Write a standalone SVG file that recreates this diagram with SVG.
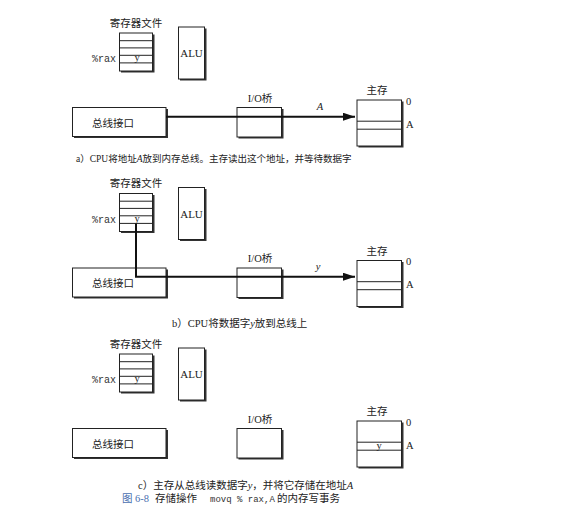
<svg xmlns="http://www.w3.org/2000/svg" width="565" height="521" viewBox="0 0 565 521">
<defs>
<style>
.bx{fill:#fff;stroke:#222;stroke-width:1}
.sh{fill:#333}
.ln{stroke:#222;stroke-width:1;fill:none}
.bus{stroke:#111;stroke-width:2;fill:none}
.t{font-family:"Liberation Serif","Noto Sans CJK SC",serif;fill:#222}
.cj{font-family:"Liberation Serif","Noto Sans CJK SC",serif;fill:#222;font-size:10.5px}
.mono{font-family:"Liberation Mono",monospace;fill:#333;font-size:10px}
.c{text-anchor:middle}
</style>
<marker id="ah" markerWidth="12" markerHeight="8" refX="12" refY="4" orient="auto" markerUnits="userSpaceOnUse">
<path d="M0,0 L12,4 L0,8 Z" fill="#111"/>
</marker>
<g id="regfile">
<rect class="sh" x="121" y="34.5" width="33.5" height="38"/>
<rect class="bx" x="119.5" y="33" width="33" height="38"/>
<path class="ln" d="M119.5,40.7H152.5M119.5,47.9H152.5M119.5,55.3H152.5M119.5,62.9H152.5"/>
<text class="mono" x="116" y="62" text-anchor="end">%rax</text>
<text class="cj c" x="136" y="26.5" font-size="10.5">寄存器文件</text>
</g>
<g id="alu">
<rect class="sh" x="180" y="28.5" width="26.5" height="52"/>
<rect class="bx" x="178.5" y="27" width="26" height="52"/>
<text class="t c" x="191.5" y="57" font-size="11">ALU</text>
</g>
<g id="bus">
<rect class="sh" x="74" y="109" width="94" height="29"/>
<rect class="bx" x="72.5" y="107.5" width="93.5" height="29"/>
<text class="cj c" x="113" y="126.5">总线接口</text>
</g>
<g id="io">
<rect class="sh" x="238.5" y="109" width="45" height="29.5"/>
<rect class="bx" x="237" y="107.5" width="44.5" height="29.5"/>
<text class="cj c" x="260" y="101.5">I/O桥</text>
</g>
<g id="mem">
<rect class="sh" x="358.5" y="101.5" width="45" height="46"/>
<rect class="bx" x="357" y="100" width="44.5" height="46"/>
<path class="ln" d="M357,121.2H401.5M357,129.2H401.5"/>
<text class="cj c" x="377" y="94">主存</text>
<text class="t" x="406" y="104.5" font-size="10.5">0</text>
<text class="t" x="406" y="127.5" font-size="10.5">A</text>
</g>
</defs>

<g id="panel-a">
<g id="a-regfile"><use href="#regfile"/><text class="t c" x="137" y="61" font-size="10.5">y</text></g>
<g id="a-alu"><use href="#alu"/></g>
<g id="a-bus"><use href="#bus"/></g>
<g id="a-io"><use href="#io"/></g>
<g id="a-mem"><use href="#mem"/></g>
<g id="a-connectors">
<path class="bus" d="M166,116.7H355" marker-end="url(#ah)"/>
<text class="t" x="320" y="110" font-size="10.5" font-style="italic" text-anchor="middle">A</text>
</g>
<text class="cj" x="76" y="162" style="font-size:9.5px">a）CPU将地址<tspan font-style="italic">A</tspan>放到内存总线。主存读出这个地址，并等待数据字</text>
</g>

<g id="panel-b" transform="translate(0,160.5)">
<g id="b-regfile"><use href="#regfile"/><text class="t c" x="137" y="61" font-size="10.5">y</text></g>
<g id="b-alu"><use href="#alu"/></g>
<g id="b-bus"><use href="#bus"/></g>
<g id="b-io"><use href="#io"/></g>
<g id="b-mem"><use href="#mem"/></g>
<g id="b-connectors">
<path class="bus" d="M136,63V116.2H355" marker-end="url(#ah)"/>
<text class="t" x="318" y="109" font-size="10.5" font-style="italic" text-anchor="middle">y</text>
</g>
</g>
<text class="cj" x="172" y="327">b）CPU将数据字<tspan font-style="italic">y</tspan>放到总线上</text>

<g id="panel-c" transform="translate(0,321)">
<g id="c-regfile"><use href="#regfile"/><text class="t c" x="137" y="61" font-size="10.5">y</text></g>
<g id="c-alu"><use href="#alu"/></g>
<g id="c-bus"><use href="#bus"/></g>
<g id="c-io"><use href="#io"/></g>
<g id="c-mem"><use href="#mem"/><text class="t c" x="379" y="128" font-size="10.5">y</text></g>
</g>
<text class="cj" x="138" y="489">c）主存从总线读数据字<tspan font-style="italic">y</tspan>，并将它存储在地址<tspan font-style="italic">A</tspan></text>

<g id="fig-caption">
<text class="cj" x="122" y="502" style="fill:#4a6fb0">图 6-8</text>
<text class="cj" x="155" y="502">存储操作</text>
<text class="mono" x="210" y="502" style="font-size:9px">movq % rax,A</text>
<text class="cj" x="277" y="502">的内存写事务</text>
</g>
</svg>
